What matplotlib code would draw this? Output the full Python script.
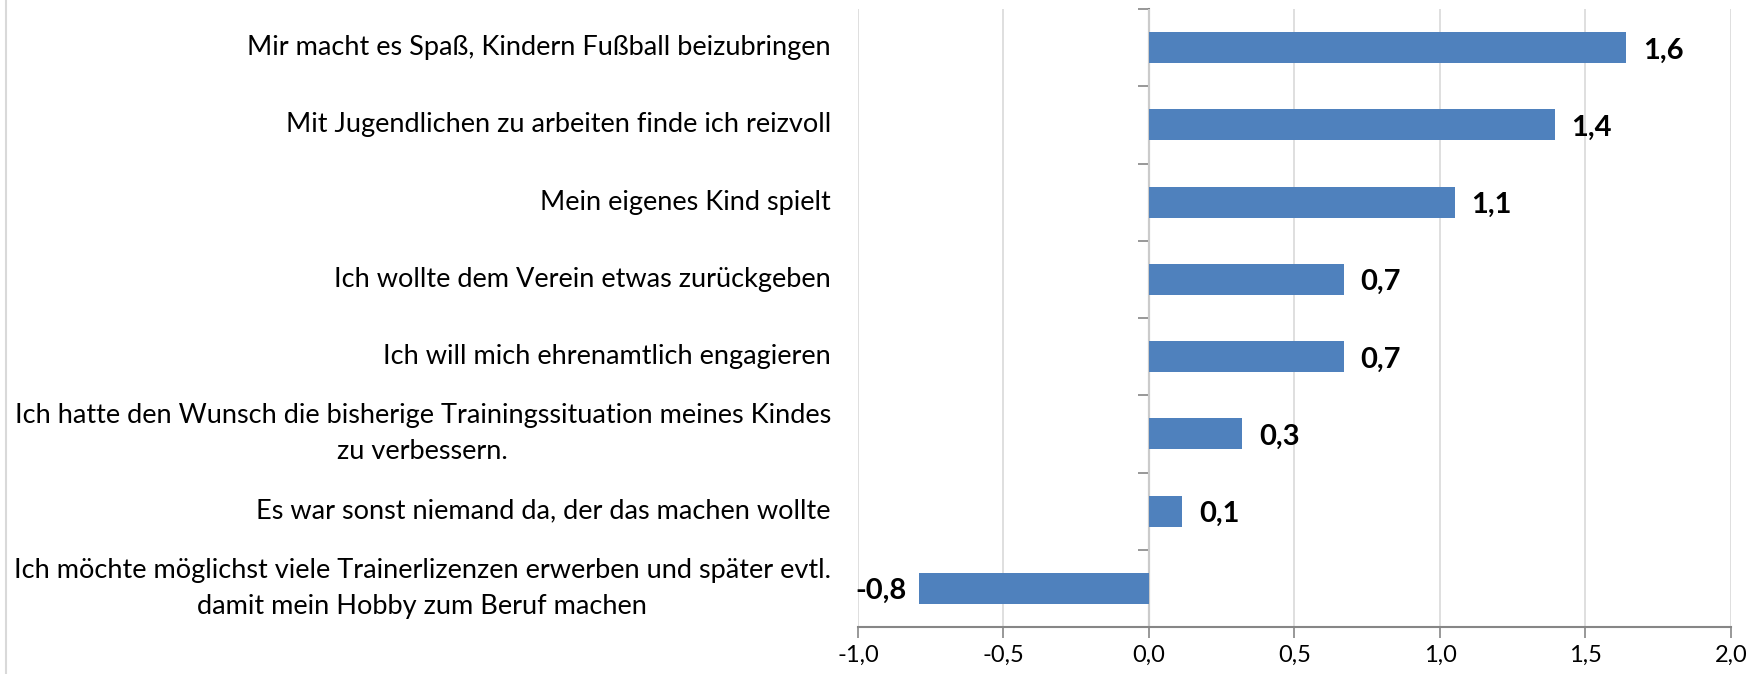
import matplotlib.pyplot as plt
from matplotlib.transforms import blended_transform_factory

plt.rcParams['font.family'] = ['Lato', 'DejaVu Sans']

categories = [
    "Mir macht es Spaß, Kindern Fußball beizubringen",
    "Mit Jugendlichen zu arbeiten finde ich reizvoll",
    "Mein eigenes Kind spielt",
    "Ich wollte dem Verein etwas zurückgeben",
    "Ich will mich ehrenamtlich engagieren",
    "Ich hatte den Wunsch die bisherige Trainingssituation meines Kindes\nzu verbessern.",
    "Es war sonst niemand da, der das machen wollte",
    "Ich möchte möglichst viele Trainerlizenzen erwerben und später evtl.\ndamit mein Hobby zum Beruf machen",
]
values = [1.64, 1.395, 1.05, 0.67, 0.67, 0.32, 0.115, -0.79]
xticks = [-1.0, -0.5, 0.0, 0.5, 1.0, 1.5, 2.0]

bar_color = "#4F81BD"
axis_color = "#868686"
grid_color = "#D9D9D9"

fig = plt.figure(figsize=(17.56, 6.74), dpi=100)
ax = fig.add_axes([858 / 1756, 1 - 627 / 674, (1731 - 858) / 1756, (627 - 9) / 674])

n = len(categories)
ypos = list(range(n))[::-1]
ax.barh(ypos, values, height=0.4, color=bar_color, zorder=3)

ax.set_xlim(-1.0, 2.0)
ax.set_ylim(-0.5, n - 0.5)

# x axis
ax.set_xticks(xticks)
ax.set_xticklabels([f"{t:.1f}".replace(".", ",") for t in xticks], fontsize=17)
ax.tick_params(axis="x", direction="out", length=8, width=1.2, color=axis_color, pad=5)
ax.grid(axis="x", color=grid_color, linewidth=1.2, zorder=0)
for s in ["top", "right", "left"]:
    ax.spines[s].set_visible(False)
ax.spines["bottom"].set_color(axis_color)
ax.spines["bottom"].set_linewidth(1.5)

# y axis hidden at the left, labels drawn as text
ax.set_yticks([])
tr = blended_transform_factory(ax.transAxes, ax.transData)
for y, lab in zip(ypos, categories):
    ax.text(-0.031, y, lab, transform=tr, ha="right", va="center",
            multialignment="center", fontsize=19.5, linespacing=1.55)

# category axis sitting at x = 0
sec = ax.secondary_yaxis(1 / 3)
sec.set_yticks([i - 0.5 for i in range(n + 1)])
sec.set_yticklabels([])
sec.spines["left"].set_color(axis_color)
sec.spines["left"].set_linewidth(1.5)
sec.tick_params(axis="y", direction="out", length=8, width=1.2, color=axis_color)

# data labels
for y, v in zip(ypos, values):
    txt = f"{v:.1f}".replace(".", ",")
    if v >= 0:
        ax.annotate(txt, (v, y), xytext=(12, -2), textcoords="offset points",
                    ha="left", va="center", fontsize=21, fontweight="bold", zorder=4)
    else:
        ax.annotate(txt, (v, y), xytext=(-9, -2), textcoords="offset points",
                    ha="right", va="center", fontsize=21, fontweight="bold", zorder=4)

# chart area border on the left edge
fig.add_artist(plt.Line2D([0.0035, 0.0035], [0, 1], color=grid_color, linewidth=1.5))

plt.savefig("out.png", dpi=100)
